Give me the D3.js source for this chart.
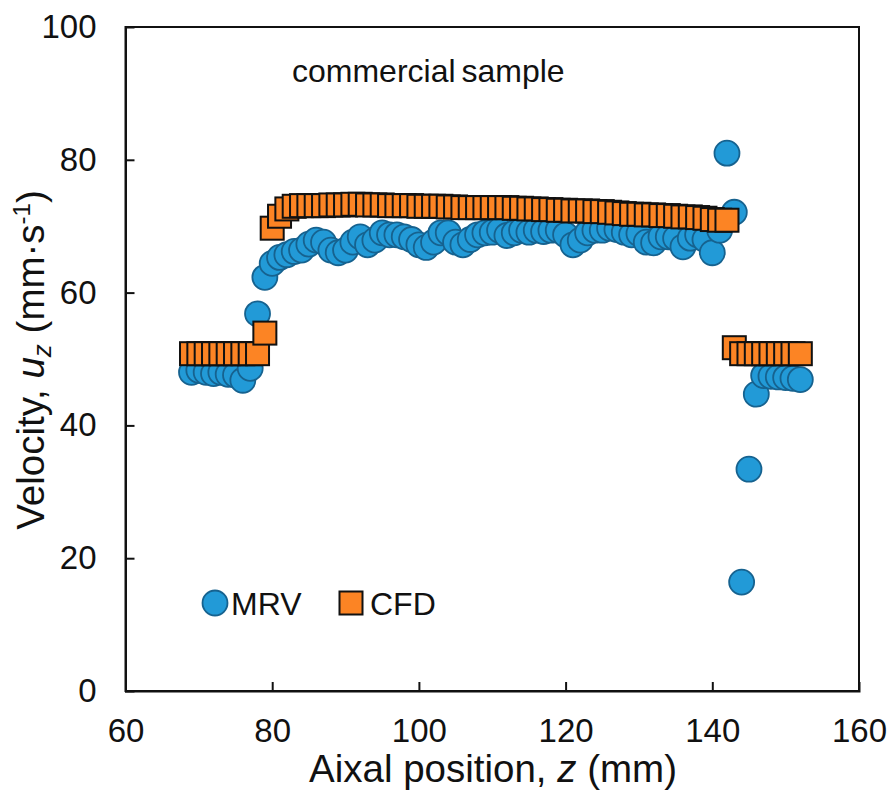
<!DOCTYPE html>
<html>
<head>
<meta charset="utf-8">
<script src="https://cdn.jsdelivr.net/npm/d3@7"></script>
<style>
  html, body { margin: 0; padding: 0; background: #fff; }
  svg { display: block; font-family: "Liberation Sans", Arial, sans-serif; }
</style>
</head>
<body>
<svg id="chart" width="894" height="798"></svg>
<script>
// ---- data ----
const mrvZ = [69,70,71,72,73,74,75,76,77,78,79,80,81,82,83,84,85,86,87,88,89,90,91,92,93,94,95,96,97,98,99,100,101,102,103,104,105,106,107,108,109,110,111,112,113,114,115,116,117,118,119,120,121,122,123,124,125,126,127,128,129,130,131,132,133,134,135,136,137,138,139,140,141,142,143,144,145,146,147,148,149,150,151,152];
const mrvU = [48.0,48.3,48.0,47.8,48.0,47.7,47.6,46.8,48.6,56.8,62.3,64.4,65.3,65.7,66.2,66.4,67.3,67.9,67.6,66.4,66.0,66.4,67.6,68.4,67.2,67.9,69.0,68.7,68.7,68.4,68.0,67.2,66.8,67.6,69.0,69.0,67.6,67.2,68.0,68.7,69.0,69.1,69.4,68.6,69.0,69.4,69.1,69.4,69.2,69.4,69.4,68.7,67.2,67.9,69.0,69.4,69.4,69.7,69.5,69.1,68.7,68.9,67.6,67.5,68.4,68.4,68.2,66.9,68.2,68.7,68.0,66.0,69.4,81.0,72.1,16.4,33.4,44.7,47.5,47.4,47.3,47.2,47.1,46.9];
const cfdZ = [69,70,71,72,73,74,75,76,77,78,79,80,81,82,83,84,85,86,87,88,89,90,91,92,93,94,95,96,97,98,99,100,101,102,103,104,105,106,107,108,109,110,111,112,113,114,115,116,117,118,119,120,121,122,123,124,125,126,127,128,129,130,131,132,133,134,135,136,137,138,139,140,141,142,143,144,145,146,147,148,149,150,151,152];
const cfdU = [50.8,50.8,50.8,50.8,50.8,50.8,50.8,50.8,50.8,50.8,53.9,69.7,71.5,72.6,73.0,73.1,73.1,73.1,73.1,73.2,73.2,73.2,73.3,73.3,73.2,73.2,73.2,73.1,73.1,73.1,73.1,73.0,73.0,73.0,73.0,72.9,72.9,72.8,72.8,72.8,72.8,72.8,72.8,72.8,72.7,72.7,72.6,72.6,72.5,72.5,72.4,72.4,72.3,72.3,72.3,72.2,72.2,72.1,72.0,71.9,71.8,71.8,71.7,71.7,71.6,71.6,71.5,71.4,71.4,71.3,71.2,71.0,70.9,70.9,51.7,50.8,50.8,50.8,50.8,50.8,50.8,50.8,50.8,50.8];
const xTicks = [60,80,100,120,140,160];
const yTicks = [0,20,40,60,80,100];
const seriesNames = ["MRV","CFD"];
const annotation = "commercial sample";

// ---- layout ----
const svg = d3.select("#chart");
const L = 125.5, R = 859, T = 27, B = 691;
const x = d3.scaleLinear().domain([60,160]).range([L,R]);
const y = d3.scaleLinear().domain([0,100]).range([B,T]);

const blue = "#229ad7", blueStroke = "#16628f";
const orange = "#fc8424", sqStroke = "#111";

// frame
svg.append("rect").attr("x",L).attr("y",T).attr("width",R-L).attr("height",B-T)
  .attr("fill","none").attr("stroke","#111").attr("stroke-width",2);

// axes
const gx = svg.append("g").attr("transform",`translate(0,${B})`)
  .call(d3.axisBottom(x).tickValues(xTicks).tickSize(-9).tickPadding(28).tickFormat(d3.format("d")));
const gy = svg.append("g").attr("transform",`translate(${L},0)`)
  .call(d3.axisLeft(y).tickValues(yTicks).tickSize(-9).tickPadding(29).tickFormat(d3.format("d")));
[gx,gy].forEach(g=>{
  g.select(".domain").attr("stroke","#111").attr("stroke-width",2);
  g.selectAll(".tick line").attr("stroke","#111").attr("stroke-width",2);
  g.selectAll(".tick text").attr("font-size",33).attr("fill","#111")
   .attr("font-family","'Liberation Sans', Arial, sans-serif");
});
gx.selectAll(".tick").filter(d=>d===60||d===160).select("line").remove();
gy.selectAll(".tick").filter(d=>d===0||d===100).select("line").remove();

// data
const mrv = mrvZ.map((z,i)=>({z,u:mrvU[i]}));
const cfd = cfdZ.map((z,i)=>({z,u:cfdU[i]}));
const r = 12.5, s = 23;

svg.append("g").selectAll("circle").data(mrv).join("circle")
  .attr("cx",d=>x(d.z)).attr("cy",d=>y(d.u)).attr("r",r)
  .attr("fill",blue).attr("stroke",blueStroke).attr("stroke-width",1.8);

svg.append("g").selectAll("rect").data(cfd).join("rect")
  .attr("x",d=>x(d.z)-s/2).attr("y",d=>y(d.u)-s/2).attr("width",s).attr("height",s)
  .attr("fill",orange).attr("stroke",sqStroke).attr("stroke-width",2);

// annotation
svg.append("text").attr("x",292).attr("y",82).attr("font-size",32).attr("fill","#111")
  .attr("word-spacing",-3).text(annotation);

// legend
const leg = svg.append("g");
leg.append("circle").attr("cx",215).attr("cy",603).attr("r",r)
  .attr("fill",blue).attr("stroke",blueStroke).attr("stroke-width",1.8);
leg.append("text").attr("x",231).attr("y",615).attr("font-size",32).attr("fill","#111").text(seriesNames[0]);
leg.append("rect").attr("x",351-s/2).attr("y",603-s/2).attr("width",s).attr("height",s)
  .attr("fill",orange).attr("stroke",sqStroke).attr("stroke-width",2);
leg.append("text").attr("x",370).attr("y",615).attr("font-size",32).attr("fill","#111").text(seriesNames[1]);

// axis titles
const xt = svg.append("text").attr("x",493).attr("y",782).attr("text-anchor","middle")
  .attr("font-size",38.5).attr("fill","#111");
xt.append("tspan").text("Aixal position, ");
xt.append("tspan").attr("font-style","italic").text("z");
xt.append("tspan").text(" (mm)");

const yt = svg.append("text").attr("transform",`translate(44,360) rotate(-90)`).attr("text-anchor","middle")
  .attr("font-size",38.5).attr("fill","#111");
yt.append("tspan").text("Velocity, ");
yt.append("tspan").attr("font-style","italic").text("u");
yt.append("tspan").attr("font-style","italic").attr("font-size",26).attr("baseline-shift","-25%").text("z");
yt.append("tspan").text("  (mm\u00B7s");
yt.append("tspan").attr("font-size",24).attr("baseline-shift","60%").text("-1");
yt.append("tspan").text(")");
</script>
</body>
</html>
